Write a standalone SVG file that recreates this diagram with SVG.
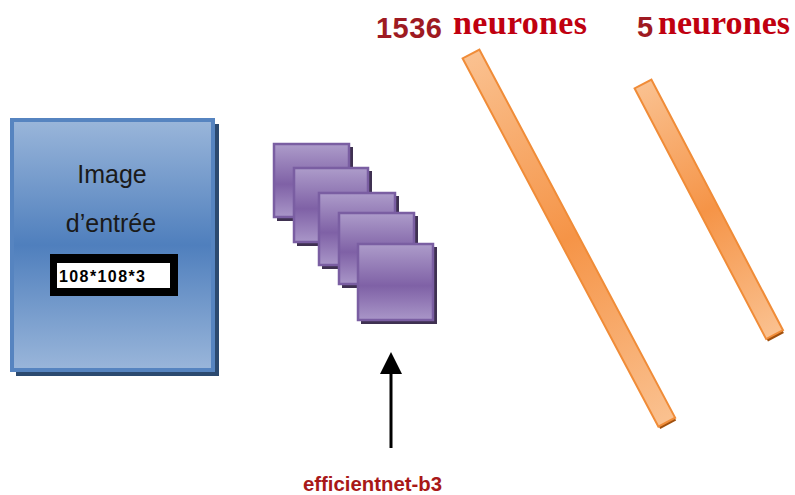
<svg xmlns="http://www.w3.org/2000/svg" width="795" height="495" viewBox="0 0 795 495">
<defs>
<linearGradient id="gBlue" x1="0" y1="0" x2="0" y2="1">
<stop offset="0" stop-color="#9ab6da"/>
<stop offset="0.5" stop-color="#4f7fbd"/>
<stop offset="1" stop-color="#9ab6da"/>
</linearGradient>
<linearGradient id="gPurple" x1="0" y1="0" x2="0" y2="1">
<stop offset="0" stop-color="#ad9cca"/>
<stop offset="0.55" stop-color="#7f61a6"/>
<stop offset="1" stop-color="#a996c8"/>
</linearGradient>
<linearGradient id="gOrange" x1="0" y1="0" x2="0" y2="1">
<stop offset="0" stop-color="#fac190"/>
<stop offset="0.5" stop-color="#f59447"/>
<stop offset="1" stop-color="#fac190"/>
</linearGradient>
<style>
.sq{fill:url(#gPurple);stroke:#7a5ea2;stroke-width:2.5}
.sqs{fill:#3f3151}
.bar{fill:url(#gOrange);stroke:#f08c38;stroke-width:2}
.lbl{font-family:"Liberation Sans",Arial,sans-serif;fill:#1a1a1a}
.num{font-family:"Liberation Sans",Arial,sans-serif;font-weight:bold;font-size:29px;fill:#9e1a22}
.neu{font-family:"Liberation Serif","Times New Roman",serif;font-weight:bold;font-size:34px;fill:#c00010}
</style>
</defs>
<rect width="795" height="495" fill="#fff"/>

<g id="input">
<rect x="16" y="124" width="203" height="252" fill="#2c4a70"/>
<rect x="12" y="120" width="201" height="250" fill="url(#gBlue)" stroke="#5684c0" stroke-width="4"/>
<text class="lbl" x="112" y="183" font-size="25" text-anchor="middle">Image</text>
<text class="lbl" x="111" y="232" font-size="25" text-anchor="middle">d’entrée</text>
<rect x="50" y="254" width="128" height="42" fill="#000"/>
<rect x="57" y="263" width="113" height="25" fill="#fff"/>
<text x="59" y="282" font-family="'Liberation Sans',Arial,sans-serif" font-weight="bold" font-size="16" fill="#000" textLength="86">108*108*3</text>
</g>

<g id="conv">
<rect class="sqs" x="277" y="147" width="76" height="74"/>
<rect class="sq" x="274" y="144" width="75" height="73"/>
<rect class="sqs" x="297" y="171" width="75" height="75"/>
<rect class="sq" x="294" y="168" width="74" height="74"/>
<rect class="sqs" x="322" y="196" width="77" height="73"/>
<rect class="sq" x="319" y="193" width="76" height="72"/>
<rect class="sqs" x="342" y="216" width="76" height="72"/>
<rect class="sq" x="339" y="213" width="75" height="71"/>
<rect class="sqs" x="361" y="247" width="76" height="77"/>
<rect class="sq" x="358" y="244" width="75" height="76"/>
</g>

<g id="dense1536">
<g transform="translate(471,54) rotate(-28)">
<rect x="-9" y="414" width="18" height="6" fill="#a0500e"/>
<rect class="bar" x="-9.5" y="0" width="19" height="417"/>
</g>
<text class="num" x="376" y="38" textLength="66">1536</text>
<text class="neu" x="453" y="34" textLength="134">neurones</text>
</g>

<g id="dense5">
<g transform="translate(643,84) rotate(-27.7)">
<rect x="-9" y="280" width="18" height="6" fill="#a0500e"/>
<rect class="bar" x="-9.5" y="0" width="19" height="283"/>
</g>
<text class="num" x="637" y="37">5</text>
<text class="neu" x="658" y="34" textLength="132">neurones</text>
</g>

<g id="connectors">
<line x1="391" y1="448" x2="391" y2="374" stroke="#000" stroke-width="3"/>
<path d="M391,352 L380,374 L402,374 z" fill="#000"/>
</g>

<g id="label">
<text x="303" y="491" font-family="'Liberation Sans',Arial,sans-serif" font-weight="bold" font-size="21" fill="#a81818" textLength="139" lengthAdjust="spacingAndGlyphs">efficientnet-b3</text>
</g>
</svg>
